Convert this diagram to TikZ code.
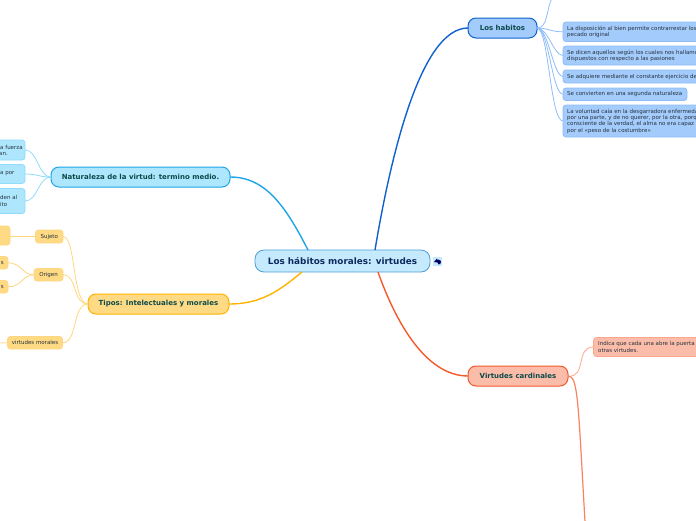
\documentclass[tikz,border=0pt]{standalone}
\usepackage{fontspec}
\setmainfont{DejaVu Sans}
\definecolor{rootfill}{HTML}{C6EAFD}\definecolor{rootline}{HTML}{4A9FD8}
\definecolor{bluefill}{HTML}{A3CBFC}\definecolor{blueline}{HTML}{0F62CE}\definecolor{bluesub}{HTML}{8FBDF8}
\definecolor{tealfill}{HTML}{AEE6FD}\definecolor{tealline}{HTML}{1EA5E6}\definecolor{tealsub}{HTML}{8FDBFB}
\definecolor{orfill}{HTML}{FFDA85}\definecolor{orline}{HTML}{FFB300}\definecolor{orsub}{HTML}{FFD680}
\definecolor{safill}{HTML}{FBBDA9}\definecolor{saline}{HTML}{F4592B}\definecolor{sasub}{HTML}{FBA78E}
\definecolor{headtext}{HTML}{0B4A4A}\definecolor{subtext}{HTML}{26323C}\definecolor{roottext}{HTML}{0D2A5E}
\tikzset{
 box/.style={rectangle,draw,line width=.8pt,anchor=north west,inner sep=0pt,outer sep=0pt},
 topic/.style={box,rounded corners=8pt,line width=1pt,text=headtext,font=\fontsize{7}{8}\selectfont\bfseries,align=center},
 sub/.style={box,rounded corners=3pt,text=subtext,font=\fontsize{5.5}{6.4}\selectfont,align=left},
 bluebox/.style={sub,fill=bluefill,draw=bluesub},
 tealbox/.style={sub,fill=tealfill,draw=tealsub},
 orbox/.style={sub,fill=orfill,draw=orsub},
 sabox/.style={sub,fill=safill,draw=sasub},
 bluelink/.style={bluesub,line width=.8pt},
 teallink/.style={tealsub,line width=.8pt},
 orlink/.style={orsub,line width=.8pt},
 salink/.style={sasub,line width=.8pt},
 plain/.style={inner sep=0pt,text=subtext,font=\fontsize{5.5}{6.4}\selectfont,align=left},
}
\newcommand{\tbox}[6]{\node[#1,minimum width=#4pt,minimum height=#5pt] (#2) at #3 {#6};}
\newcommand{\ltext}[3]{\node[plain,anchor=west] (#1) at #2 {#3};}
\begin{document}
\begin{tikzpicture}[x=1pt,y=-1pt]
\useasboundingbox (0,0) rectangle (696,520);
\clip (0,0) rectangle (696,520);
% main nodes
\node[box,fill=rootfill,draw=rootline,rounded corners=9pt,minimum width=175pt,minimum height=22pt,text=roottext,font=\fontsize{8.85}{10}\selectfont\bfseries] (root) at (255,250) {Los hábitos morales: virtudes};
\tbox{topic,fill=bluefill,draw=blueline}{hab}{(468,18)}{69}{20}{Los habitos}
\tbox{topic,fill=tealfill,draw=tealline}{nat}{(51,167)}{179}{20}{Naturaleza de la virtud: termino medio.}
\tbox{topic,fill=orfill,draw=orline}{tip}{(88,294)}{141}{20}{Tipos: Intelectuales y morales}
\tbox{topic,fill=safill,draw=saline}{car}{(468,366)}{100}{20}{Virtudes cardinales}
% anchor points on the root border
\coordinate (rNE) at (375,250);
\coordinate (rNW) at (308,250);
\coordinate (rSW) at (302,272);
\coordinate (rSE) at (378,272);
\coordinate (topEnd) at (552,-2);
\coordinate (botEnd) at (585,522);
\coordinate (leftEnd) at (-2,343);
% blue children
\tbox{bluebox}{b1}{(563,22)}{160}{19.5}{}
\tbox{bluebox}{b2}{(563,46)}{160}{19}{}
\tbox{bluebox}{b3}{(563,70)}{160}{13}{}
\tbox{bluebox}{b4}{(563,88)}{124}{12.5}{}
\tbox{bluebox}{b5}{(563,105)}{160}{32}{}
\ltext{t1}{(567,32)}{La disposición al bien permite contrarrestar los\\pecado original}
\ltext{t2}{(567,56)}{Se dicen aquellos según los cuales nos hallamos\\dispuestos con respecto a las pasiones}
\ltext{t3}{(567,76.7)}{Se adquiere mediante el constante ejercicio de}
\ltext{t4}{(567,94.2)}{Se convierten en una segunda naturaleza}
\ltext{t5}{(567,121)}{La voluntad caía en la desgarradora enfermedad\\por una parte, y de no querer, por la otra, porque\\consciente de la verdad, el alma no era capaz de\\por el «peso de la costumbre»}
% teal children
\tbox{tealbox}{n1}{(-30,140)}{55}{20}{}
\tbox{tealbox}{n2}{(-30,164.5)}{55}{19}{}
\tbox{tealbox}{n3}{(-30,188.5)}{55}{25}{}
\node[plain,anchor=west] (tn1) at (-1,150.5) {\hspace{1pt}a fuerza\\an.};
\node[plain,anchor=west] (tn2) at (0,174) {a por};
\node[plain,anchor=west] (tn3) at (0,201) {den al\\ito};
% orange children
\tbox{orbox}{o0}{(-30,226)}{40}{19}{}
\tbox{orbox}{o1}{(35.5,230)}{27.5}{13}{Sujeto}
\tbox{orbox}{o2}{(34,268.5)}{29}{12.5}{Origen}
\tbox{orbox}{o3}{(-30,256.5)}{38}{12.5}{}
\tbox{orbox}{o4}{(-30,280.5)}{38}{12.5}{}
\tbox{orbox}{o5}{(7.5,336.5)}{55}{12.5}{virtudes morales}
\node[plain,anchor=east] (to3) at (4,263) {s};
\node[plain,anchor=east] (to4) at (4,287) {s};
% salmon child
\tbox{sabox}{s1}{(593.5,337.5)}{160}{19}{}
\ltext{ts1}{(598,347)}{Indica que cada una abre la puerta\\otras virtudes.}
% main connectors
\draw[blueline,line width=1.4pt] (rNE) .. controls (390,160) and (420,28) .. (hab.west);
\draw[tealline,line width=1.4pt] (rNW) .. controls (285,205) and (265,177) .. (nat.east);
\draw[orline,line width=1.4pt] (rSW) .. controls (280,290) and (262,304) .. (tip.east);
\draw[saline,line width=1.4pt] (rSE) .. controls (395,320) and (425,376) .. (car.west);
% blue links
\draw[bluelink] (hab.east) .. controls (548,28) and (546,10) .. (topEnd);
\draw[bluelink] (hab.east) .. controls (548,28) and (551,32) .. (b1.west);
\draw[bluelink] (hab.east) .. controls (549,29) and (553,55) .. (b2.west);
\draw[bluelink] (hab.east) .. controls (549,29) and (553,76) .. (b3.west);
\draw[bluelink] (hab.east) .. controls (549,29) and (552,94) .. (b4.west);
\draw[bluelink] (hab.east) .. controls (549,29) and (550,121) .. (b5.west);
% teal links
\draw[teallink] (nat.west) .. controls (38,177) and (38,150) .. (n1.east);
\draw[teallink] (nat.west) .. controls (38,177) and (38,174) .. (n2.east);
\draw[teallink] (nat.west) .. controls (38,177) and (38,201) .. (n3.east);
% orange links
\draw[orlink] (tip.west) .. controls (72,304) and (76,236) .. (o1.east);
\draw[orlink] (tip.west) .. controls (72,304) and (78,275) .. (o2.east);
\draw[orlink] (tip.west) .. controls (72,304) and (78,343) .. (o5.east);
\draw[orlink] (o1.west) -- (o0.east |- o1.west);
\draw[orlink] (o2.west) .. controls (22,275) and (22,263) .. (o3.east);
\draw[orlink] (o2.west) .. controls (22,275) and (22,287) .. (o4.east);
\draw[orlink] (o5.west) -- (leftEnd);
% salmon links
\draw[salink] (car.east) .. controls (587,378) and (575,347) .. (s1.west);
\draw[saline!75,line width=1.2pt] (car.east) .. controls (578,376) and (578,400) .. (botEnd);
% icon
\node[rectangle,fill=rootfill,minimum width=9pt,minimum height=9pt,inner sep=0pt] (icon) at (437.5,261) {};
\fill[black!60!blue] (434,262) -- (437,258.5) -- (437.5,260) -- (438.5,259.5) -- (441,261) -- (440.5,263.5) -- (438.5,264.5) -- (437.5,262.5) -- cycle;
\end{tikzpicture}
\end{document}
